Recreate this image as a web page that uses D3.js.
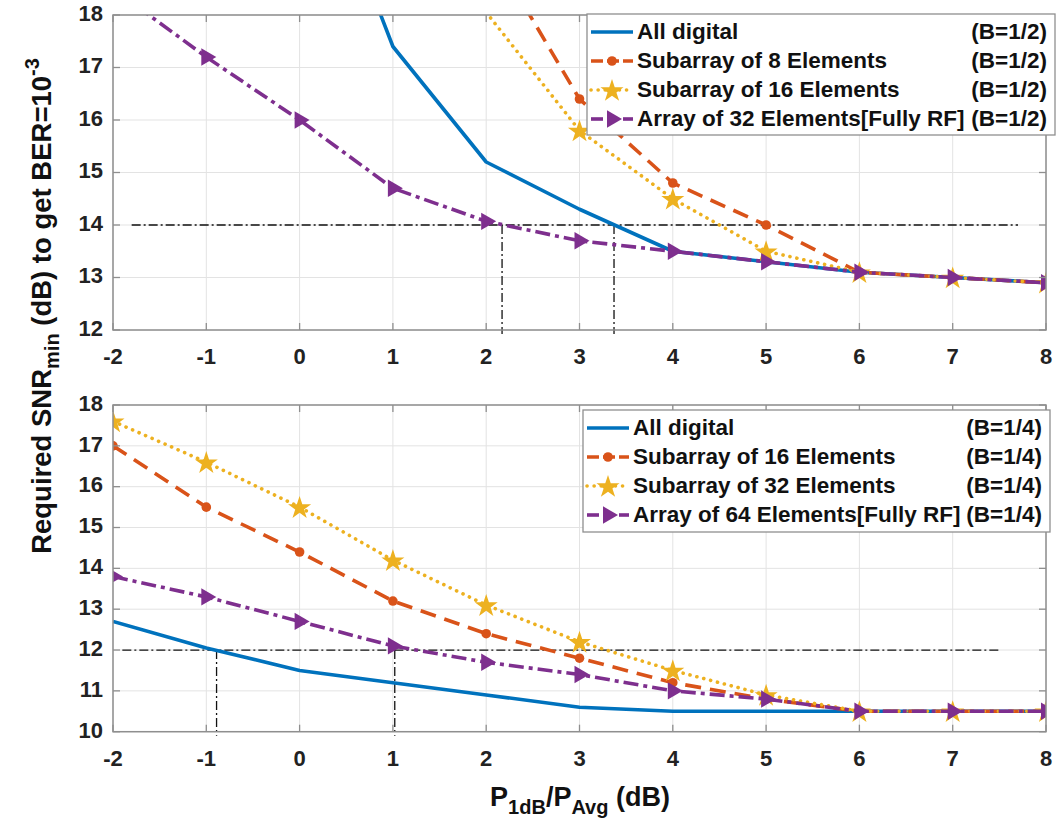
<!DOCTYPE html>
<html>
<head>
<meta charset="utf-8">
<script src="https://cdn.jsdelivr.net/npm/d3@7"></script>
<style>
  body { margin: 0; background: #fff; }
  svg { font-family: "Liberation Sans", Arial, sans-serif; }
</style>
</head>
<body>
<svg id="chart"></svg>
<script>
let width = 1056, height = 820

// x values shared by every curve
let xVals = [-2, -1, 0, 1, 2, 3, 4, 5, 6, 7, 8]
let xTicks = [-2, -1, 0, 1, 2, 3, 4, 5, 6, 7, 8]

// upper panel, B=1/2
let digitalHalf = [null, null, 22.0, 17.4, 15.2, 14.3, 13.5, 13.3, 13.1, 13.0, 12.9]
let sub8Half = [null, null, null, null, 19.4, 16.4, 14.8, 14.0, 13.1, 13.0, 12.9]
let sub16Half = [null, null, null, null, 18.05, 15.8, 14.5, 13.5, 13.1, 13.0, 12.9]
let full32Half = [18.5, 17.2, 16.0, 14.7, 14.07, 13.7, 13.5, 13.3, 13.1, 13.0, 12.9]
let yTicksTop = [12, 13, 14, 15, 16, 17, 18]

// lower panel, B=1/4
let digitalQuarter = [12.7, 12.05, 11.5, 11.2, 10.9, 10.6, 10.5, 10.5, 10.5, 10.5, 10.5]
let sub16Quarter = [17.0, 15.5, 14.4, 13.2, 12.4, 11.8, 11.2, 10.8, 10.5, 10.5, 10.5]
let sub32Quarter = [17.6, 16.6, 15.5, 14.2, 13.1, 12.2, 11.5, 10.9, 10.5, 10.5, 10.5]
let full64Quarter = [13.8, 13.3, 12.7, 12.1, 11.7, 11.4, 11.0, 10.8, 10.5, 10.5, 10.5]
let yTicksBottom = [10, 11, 12, 13, 14, 15, 16, 17, 18]

// legend text
let labelsHalf = ['All digital', 'Subarray of 8 Elements', 'Subarray of 16 Elements', 'Array of 32 Elements[Fully RF]']
let labelsQuarter = ['All digital', 'Subarray of 16 Elements', 'Subarray of 32 Elements', 'Array of 64 Elements[Fully RF]']

// dash-dot guide lines (data units)
let guideTop = {y: 14, xFrom: -1.8, xTo: 7.7, xs: [2.17, 3.37]}
let guideBottom = {y: 12, xFrom: -1.9, xTo: 7.5, xs: [-0.89, 1.02]}

let styles = [
    {color: '#0072BD', dash: null, legendDash: null, marker: null},
    {color: '#D95319', dash: '16,9', legendDash: '12,4', marker: 'circle'},
    {color: '#EDB120', dash: '0.1,7', legendDash: '0.1,7', marker: 'star', cap: 'round'},
    {color: '#7E2F8E', dash: '15,5,4,5', legendDash: '12,30', marker: 'tri'},
]

let svg = d3.select('#chart').attr('width', width).attr('height', height)

let x = d3.scaleLinear().domain([-2, 8]).range([113, 1046])

const drawMarkers = (g, pts, st) => {
    if (st.marker === 'circle') {
        g.selectAll(null).data(pts).enter().append('circle')
            .attr('cx', d => d[0]).attr('cy', d => d[1]).attr('r', 4.8)
            .attr('fill', st.color)
    } else if (st.marker === 'star') {
        g.selectAll(null).data(pts).enter().append('path')
            .attr('d', d3.symbol(d3.symbolStar, 165))
            .attr('transform', d => `translate(${d[0]},${d[1] + 1})`)
            .attr('fill', st.color)
    } else if (st.marker === 'tri') {
        g.selectAll(null).data(pts).enter().append('path')
            .attr('d', d3.symbol(d3.symbolTriangle, 130))
            .attr('transform', d => `translate(${d[0]},${d[1]}) rotate(90)`)
            .attr('fill', st.color)
    }
}

const drawLegend = (box, labels, tag) => {
    let g = svg.append('g')
    g.append('rect').attr('x', box.x).attr('y', box.y)
        .attr('width', box.w).attr('height', box.h)
        .attr('fill', '#fff').attr('stroke', '#8f8f8f').attr('stroke-width', 1.3)
    labels.forEach((lab, i) => {
        let st = styles[i]
        let cy = box.y + 18 + i * 29
        let lx0 = box.x + 4, lx1 = box.x + 46
        g.append('line').attr('x1', lx0).attr('x2', lx1).attr('y1', cy).attr('y2', cy)
            .attr('stroke', st.color).attr('stroke-width', 3.6)
            .attr('stroke-linecap', st.cap || 'butt')
            .attr('stroke-dasharray', st.legendDash)
        if (st.marker === 'tri') {
            g.append('line').attr('x1', lx1 - 10).attr('x2', lx1).attr('y1', cy).attr('y2', cy)
                .attr('stroke', st.color).attr('stroke-width', 3.6)
        }
        drawMarkers(g, [[(lx0 + lx1) / 2, cy]], st)
        g.append('text').attr('x', box.x + 50).attr('y', cy + 1)
            .attr('dominant-baseline', 'middle')
            .attr('font-size', 22.5).attr('font-weight', 'bold').attr('fill', '#111')
            .text(lab)
        g.append('text').attr('x', box.x + box.w - 8).attr('y', cy + 1)
            .attr('dominant-baseline', 'middle').attr('text-anchor', 'end')
            .attr('font-size', 22.5).attr('font-weight', 'bold').attr('fill', '#111')
            .text(tag)
    })
}

const drawPanel = (opts) => {
    let y = d3.scaleLinear().domain(opts.yDomain).range(opts.yRange)
    let g = svg.append('g')
    let clipId = 'clip' + opts.id
    g.append('clipPath').attr('id', clipId)
        .append('rect')
        .attr('x', x.range()[0]).attr('y', opts.yRange[1])
        .attr('width', x.range()[1] - x.range()[0])
        .attr('height', opts.yRange[0] - opts.yRange[1])

    // grid
    g.selectAll('.gx').data(xTicks).enter().append('line')
        .attr('x1', d => x(d)).attr('x2', d => x(d))
        .attr('y1', opts.yRange[0]).attr('y2', opts.yRange[1])
        .attr('stroke', '#e3e3e3').attr('stroke-width', 1)
    g.selectAll('.gy').data(opts.yTicks).enter().append('line')
        .attr('x1', x.range()[0]).attr('x2', x.range()[1])
        .attr('y1', d => y(d)).attr('y2', d => y(d))
        .attr('stroke', '#e3e3e3').attr('stroke-width', 1)

    // guide lines
    let gd = opts.guide
    let guides = g.append('g').attr('stroke', '#111').attr('stroke-width', 1.3)
        .attr('stroke-dasharray', '9,3,2,3').attr('fill', 'none')
    guides.append('line')
        .attr('x1', x(gd.xFrom)).attr('x2', x(gd.xTo))
        .attr('y1', y(gd.y)).attr('y2', y(gd.y))
    guides.selectAll('.v').data(gd.xs).enter().append('line')
        .attr('x1', d => x(d)).attr('x2', d => x(d))
        .attr('y1', y(gd.y)).attr('y2', y(opts.yDomain[0]) + 4)

    // curves
    let line = d3.line()
        .defined(d => d[1] !== null)
        .x(d => x(d[0])).y(d => y(d[1]))
    let plot = g.append('g').attr('clip-path', `url(#${clipId})`)
    opts.series.forEach((vals, i) => {
        let st = styles[i]
        let pts = xVals.map((xv, j) => [xv, vals[j]])
        plot.append('path')
            .datum(pts)
            .attr('d', line)
            .attr('fill', 'none')
            .attr('stroke', st.color)
            .attr('stroke-width', 3.6)
            .attr('stroke-linecap', st.cap || 'butt')
            .attr('stroke-linejoin', 'round')
            .attr('stroke-dasharray', st.dash)
        let inside = pts.filter(p => p[1] !== null && p[1] >= opts.yDomain[0] && p[1] <= opts.yDomain[1])
        drawMarkers(plot, inside.map(p => [x(p[0]), y(p[1])]), st)
    })

    // box + ticks
    let [x0, x1] = x.range()
    let [yb, yt] = opts.yRange
    g.append('rect').attr('x', x0).attr('y', yt)
        .attr('width', x1 - x0).attr('height', yb - yt)
        .attr('fill', 'none').attr('stroke', '#8f8f8f').attr('stroke-width', 1.5)
    let tk = g.append('g').attr('stroke', '#8f8f8f').attr('stroke-width', 1.3)
    xTicks.forEach(t => {
        tk.append('line').attr('x1', x(t)).attr('x2', x(t)).attr('y1', yb).attr('y2', yb - 7)
        tk.append('line').attr('x1', x(t)).attr('x2', x(t)).attr('y1', yt).attr('y2', yt + 7)
    })
    opts.yTicks.forEach(t => {
        tk.append('line').attr('x1', x0).attr('x2', x0 + 7).attr('y1', y(t)).attr('y2', y(t))
        tk.append('line').attr('x1', x1).attr('x2', x1 - 7).attr('y1', y(t)).attr('y2', y(t))
    })

    // tick labels
    g.selectAll('.xl').data(xTicks).enter().append('text')
        .attr('x', d => x(d)).attr('y', yb + 28)
        .attr('text-anchor', 'middle').attr('dominant-baseline', 'middle')
        .attr('font-size', 22).attr('font-weight', 'bold').attr('fill', '#222')
        .text(d => d)
    g.selectAll('.yl').data(opts.yTicks).enter().append('text')
        .attr('x', x0 - 10).attr('y', d => y(d))
        .attr('text-anchor', 'end').attr('dominant-baseline', 'middle')
        .attr('font-size', 22).attr('font-weight', 'bold').attr('fill', '#222')
        .text(d => d)

    drawLegend(opts.legend, opts.labels, opts.tag)
}

drawPanel({
    id: 'top', yDomain: [12, 18], yRange: [330, 15], yTicks: yTicksTop,
    series: [digitalHalf, sub8Half, sub16Half, full32Half],
    guide: guideTop, labels: labelsHalf, tag: '(B=1/2)',
    legend: {x: 587, y: 14, w: 468, h: 121},
})

drawPanel({
    id: 'bottom', yDomain: [10, 18], yRange: [731.7, 405], yTicks: yTicksBottom,
    series: [digitalQuarter, sub16Quarter, sub32Quarter, full64Quarter],
    guide: guideBottom, labels: labelsQuarter, tag: '(B=1/4)',
    legend: {x: 583, y: 410, w: 467, h: 122},
})

// axis titles
let yl = svg.append('text')
    .attr('transform', 'translate(51,306) rotate(-90)')
    .attr('text-anchor', 'middle')
    .attr('font-size', 27.5).attr('font-weight', 'bold').attr('fill', '#111')
yl.append('tspan').text('Required SNR')
yl.append('tspan').attr('font-size', 20).attr('dy', 8).text('min')
yl.append('tspan').attr('dy', -8).text(' (dB) to get BER=10')
yl.append('tspan').attr('font-size', 20).attr('dy', -12).text('-3')

let xl = svg.append('text')
    .attr('x', 580).attr('y', 806)
    .attr('text-anchor', 'middle')
    .attr('font-size', 27).attr('font-weight', 'bold').attr('fill', '#111')
xl.append('tspan').text('P')
xl.append('tspan').attr('font-size', 20).attr('dy', 8).text('1dB')
xl.append('tspan').attr('dy', -8).text('/P')
xl.append('tspan').attr('font-size', 20).attr('dy', 8).text('Avg')
xl.append('tspan').attr('dy', -8).text(' (dB)')
</script>
</body>
</html>
